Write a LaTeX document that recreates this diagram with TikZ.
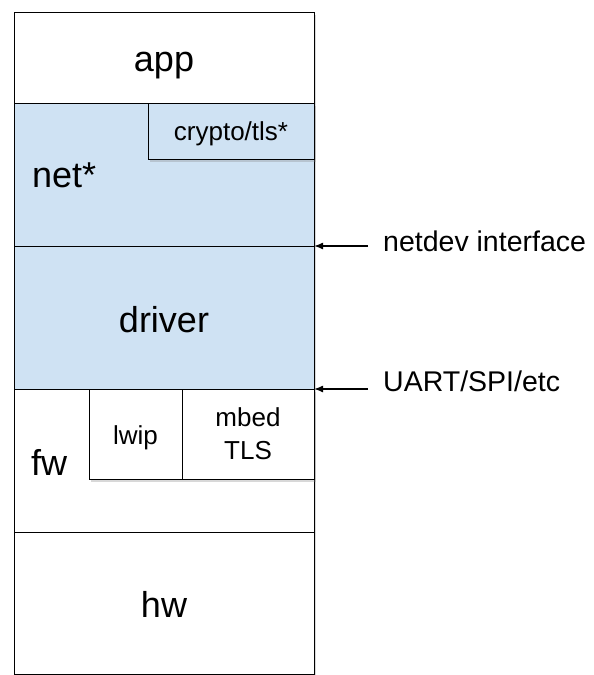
\documentclass[tikz,border=0pt]{standalone}
\usepackage{fontspec}
\setmainfont{Liberation Sans}
\usetikzlibrary{shadows,arrows.meta}
\definecolor{lblue}{HTML}{CFE2F3}
\begin{document}
\begin{tikzpicture}[x=1pt,y=-1pt,
  layer/.style={draw=black, line width=1.4pt, fill=white, inner sep=0pt, anchor=north west},
  bluelayer/.style={layer, fill=lblue},
  shad/.style={drop shadow={shadow xshift=1.5pt, shadow yshift=-2.5pt, opacity=0.3}},
  big/.style={font=\fontsize{36}{40}\selectfont, inner sep=0pt, anchor=base},
  small/.style={font=\fontsize{26}{33}\selectfont, inner sep=0pt},
  side/.style={font=\fontsize{28.5}{32}\selectfont, inner sep=0pt, anchor=base west},
  arr/.style={-{Latex[length=9pt,width=7pt]}, line width=1.4pt}]
\useasboundingbox (0,0) rectangle (594,675);
% layers
\node[layer, shad, minimum width=300pt, minimum height=90.7pt] (app) at (14,12) {};
\node[bluelayer, shad, minimum width=300pt, minimum height=142.8pt] (net) at (14,102.7) {};
\node[bluelayer, shad, minimum width=166pt, minimum height=56.3pt] (crypto) at (148,102.7) {};
\node[bluelayer, shad, minimum width=300pt, minimum height=143.5pt] (driver) at (14,245.5) {};
\node[layer, shad, minimum width=300pt, minimum height=143pt] (fw) at (14,389) {};
\node[layer, shad, minimum width=93pt, minimum height=90pt] (lwip) at (89,389) {};
\node[layer, shad, minimum width=132pt, minimum height=90pt] (mbed) at (182,389) {};
\node[layer, shad, minimum width=300pt, minimum height=142.3pt] (hw) at (14,532) {};
% labels
\node[big] (tapp) at (164,71) {app};
\node[big, anchor=base west] (tnet) at (32,187) {net*};
\node[small, anchor=base] (tcrypto) at (231,140) {crypto/tls*};
\node[big] (tdriver) at (164,332) {driver};
\node[big, anchor=base west] (tfw) at (31,475) {fw};
\node[small, anchor=base] (tlwip) at (135.5,444) {lwip};
\node[small, align=center] (tmbed) at (248,434) {mbed\\TLS};
\node[big] (thw) at (164,617) {hw};
% side labels and arrows
\node[side] (lnetdev) at (383,251) {netdev interface};
\node[side] (luart) at (383,391) {UART/SPI/etc};
\coordinate (cnetdev) at (314,246);
\coordinate (cuart) at (314,389);
\draw[arr, shorten <=15pt] (lnetdev.west |- cnetdev) -- (cnetdev);
\draw[arr, shorten <=15pt] (luart.west |- cuart) -- (cuart);
\end{tikzpicture}
\end{document}
